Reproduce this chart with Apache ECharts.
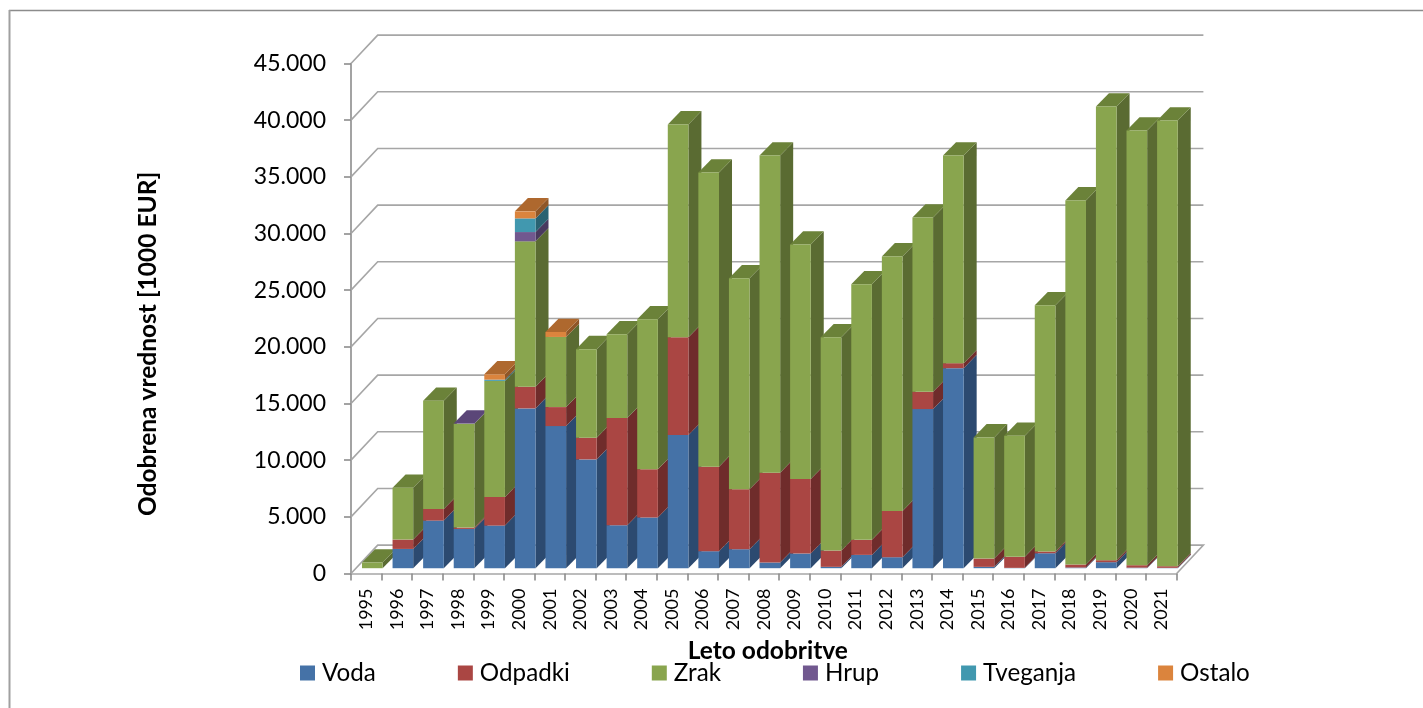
<!DOCTYPE html>
<html>
<head>
<meta charset="utf-8">
<title>Odobrena vrednost</title>
<script src="https://cdn.jsdelivr.net/npm/echarts@6/dist/echarts.min.js"></script>
<style>
html,body{margin:0;padding:0;background:#fff;}
#main{width:1423px;height:708px;}
</style>
</head>
<body>
<div id="main"></div>
<script>
var years = ['1995','1996','1997','1998','1999','2000','2001','2002','2003','2004','2005','2006','2007','2008','2009','2010','2011','2012','2013','2014','2015','2016','2017','2018','2019','2020','2021'];
var voda     = [0,1700,4200,3465,3760,14100,12540,9600,3790,4465,11750,1500,1675,500,1290,120,1175,970,14040,17650,120,30,1320,60,530,50,30];
var odpadki  = [0,825,1030,118,2525,1910,1675,1910,9455,4255,8630,7460,5285,7930,6580,1437,1325,4080,1525,440,730,970,150,263,175,214,146];
var zrak     = [500,4580,9545,9163,10242,12830,6189,7820,7395,13240,18780,25960,18620,27980,20690,18820,22550,22460,15385,18320,10690,10690,21730,32130,40035,38356,39320];
var hrup     = [0,0,0,20,0,820,0,0,0,0,0,0,0,0,0,0,0,0,0,0,0,0,0,0,0,0,0];
var tveganja = [0,0,0,0,110,1205,0,0,0,0,0,0,0,0,0,0,0,0,0,0,0,0,0,0,0,0,0];
var ostalo   = [0,0,0,0,470,620,440,0,0,0,0,0,0,0,0,0,0,0,0,0,0,0,0,0,0,0,0];
var yTicks = [0,5000,10000,15000,20000,25000,30000,35000,40000,45000];

var names = ['Voda','Odpadki','Zrak','Hrup','Tveganja','Ostalo'];
var values = [voda,odpadki,zrak,hrup,tveganja,ostalo];
var frontColors = ['#4572A7','#AA4643','#89A54E','#71588F','#4198AF','#DB843D'];
var sideColors  = ['#2C4A70','#6F2C2B','#5A6B32','#49395E','#296272','#8F5627'];
var topColors   = ['#38598A','#8A3836','#6B8239','#5B4678','#347A8C','#AE682E'];

// 3D look: shift of the back wall, of the bar front and the depth of a bar
var wallDx = 26.7, wallDy = -28.4;
var frontDx = 6, frontDy = -5.3;
var depthX = 13, depthY = -13.3;
var barRatio = 0.675;

function formatThousands(v){
	return String(v).replace(/\B(?=(\d{3})+$)/g,'.');
}

// cumulative stack per year
var totals = years.map(function(y,i){
	var sum = 0;
	for(var s = 0; s < values.length; s++){ sum += values[s][i]; }
	return sum;
});

function renderWall(params, api){
	var v = api.value(0);
	var y = api.coord([0,v])[1];
	var left = params.coordSys.x;
	var right = params.coordSys.x + params.coordSys.width;
	var pts = [[left,y],[left+wallDx,y+wallDy],[right+wallDx,y+wallDy]];
	if(v === 0){
		pts.push([right,y]);
	}
	return {
		type:'polyline',
		shape:{points:pts},
		silent:true,
		style:{fill:null,stroke:'#A6A6A6',lineWidth:1.6}
	};
}

function makeRenderBar(seriesIdx){
	return function(params, api){
		var i = api.value(0);
		var start = api.value(1);
		var end = api.value(2);
		if(end <= start){ return; }
		var w = api.size([1,0])[0]*barRatio;
		var cx = api.coord([i,0])[0] + frontDx;
		var x0 = cx - w/2, x1 = cx + w/2;
		var y0 = api.coord([i,start])[1] + frontDy;
		var y1 = api.coord([i,end])[1] + frontDy;
		var order = i*10 + seriesIdx;
		var children = [
			{type:'polygon',z2:order,shape:{points:[[x1,y0],[x1+depthX,y0+depthY],[x1+depthX,y1+depthY],[x1,y1]]},style:{fill:sideColors[seriesIdx]}},
			{type:'rect',z2:order+0.5,shape:{x:x0,y:y1,width:w,height:y0-y1},style:{fill:frontColors[seriesIdx]}}
		];
		if(end >= totals[i]){
			children.push({type:'polygon',z2:order,shape:{points:[[x0,y1],[x0+depthX,y1+depthY],[x1+depthX,y1+depthY],[x1,y1]]},style:{fill:topColors[seriesIdx]}});
		}
		return {type:'group',children:children};
	};
}

var series = [{
	type:'custom',
	name:'wall',
	z:1,
	silent:true,
	coordinateSystem:'cartesian2d',
	renderItem:renderWall,
	encode:{y:0},
	data:yTicks.map(function(v){ return [v]; })
}];

names.forEach(function(name,s){
	var data = years.map(function(y,i){
		var start = 0;
		for(var k = 0; k < s; k++){ start += values[k][i]; }
		return [i,start,start+values[s][i]];
	});
	series.push({
		type:'custom',
		name:name,
		z:2,
		coordinateSystem:'cartesian2d',
		renderItem:makeRenderBar(s),
		encode:{x:0,y:[1,2]},
		itemStyle:{color:frontColors[s]},
		data:data
	});
});

var myChart = echarts.init(document.getElementById('main'));
var option = {
	animation:false,
	backgroundColor:'#fff',
	textStyle:{fontFamily:'Lato'},
	grid:{left:351,top:63.5,width:825.7,height:510,containLabel:false},
	legend:{
		left:295,
		top:656,
		data:names,
		icon:'rect',
		itemWidth:15,
		itemHeight:15,
		itemGap:82,
		textStyle:{fontFamily:'Lato',fontSize:24.2,color:'#000',padding:[0,0,0,2]}
	},
	xAxis:{
		type:'category',
		data:years,
		name:'Leto odobritve',
		nameLocation:'middle',
		nameGap:59,
		nameTextStyle:{fontFamily:'Lato',fontWeight:'bold',fontSize:24.5,color:'#000',padding:[0,0,0,8]},
		axisLine:{lineStyle:{color:'#A6A6A6',width:1.6}},
		axisTick:{show:true,alignWithLabel:false,length:7,lineStyle:{color:'#8C8C8C',width:1.6}},
		axisLabel:{rotate:90,fontFamily:'Lato',fontSize:18,color:'#000',margin:15,interval:0},
		splitLine:{show:false}
	},
	yAxis:{
		type:'value',
		min:0,
		max:45000,
		interval:5000,
		axisLine:{show:true,lineStyle:{color:'#8C8C8C',width:1.6}},
		axisTick:{show:true,length:7,lineStyle:{color:'#8C8C8C',width:1.6}},
		axisLabel:{fontFamily:'Lato',fontSize:23,color:'#000',margin:25,formatter:formatThousands},
		splitLine:{show:false}
	},
	graphic:[
		{type:'line',silent:true,shape:{x1:9,y1:10.5,x2:1423,y2:10.5},style:{stroke:'#8C8C8C',lineWidth:1.5}},
		{type:'line',silent:true,shape:{x1:9.5,y1:10,x2:9.5,y2:708},style:{stroke:'#A0A0A0',lineWidth:2}},
		{type:'text',silent:true,x:148,y:344,rotation:Math.PI/2,style:{text:'Odobrena vrednost [1000 EUR]',fontFamily:'Lato',fontWeight:'bold',fontSize:24.5,fill:'#000',align:'center',verticalAlign:'middle'}}
	],
	series:series
};
myChart.setOption(option);
</script>
</body>
</html>
